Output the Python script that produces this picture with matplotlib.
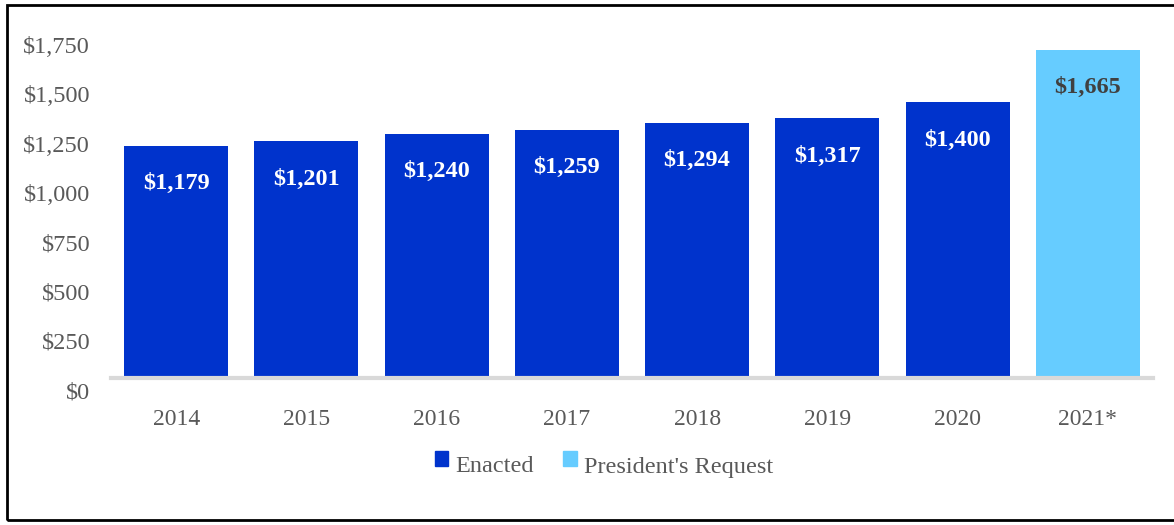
import matplotlib.pyplot as plt
import matplotlib.transforms as mtransforms
from matplotlib.patches import Rectangle, Patch

years = ['2014', '2015', '2016', '2017', '2018', '2019', '2020', '2021*']
values = [1179, 1201, 1240, 1259, 1294, 1317, 1400, 1665]
kinds = ['Enacted'] * 7 + ["President's Request"]
yticks = [0, 250, 500, 750, 1000, 1250, 1500, 1750]

colors = {'Enacted': '#0033CC', "President's Request": '#66CCFF'}
label_colors = {'Enacted': 'white', "President's Request": '#404040'}

plt.rcParams['font.family'] = ['Liberation Serif', 'DejaVu Serif']

fig = plt.figure(figsize=(11.74, 5.25), dpi=100)
ax = fig.add_axes([111 / 1174, 147 / 525, (1153 - 111) / 1174, (378 - 33) / 525])

x = list(range(len(years)))
ax.bar(x, values, width=0.8, color=[colors[k] for k in kinds], zorder=2)

# value labels inside top of bars
for xi, v, k in zip(x, values, kinds):
    off = mtransforms.ScaledTranslation(0, -38 / 100, fig.dpi_scale_trans)
    ax.text(xi, v, '${:,}'.format(v), ha='center', va='center',
            fontsize=17.5, fontweight='bold', color=label_colors[k],
            transform=ax.transData + off)

ax.set_xlim(-0.5, len(years) - 0.5)
ax.set_ylim(0, 1750)
ax.set_xticks(x)
ax.set_xticklabels(years, fontsize=17, color='#595959')
ax.set_yticks(yticks)
ax.set_yticklabels(['${:,}'.format(t) for t in yticks], fontsize=17.5, color='#595959')
ax.tick_params(axis='both', length=0)
ax.tick_params(axis='x', pad=22)
ax.tick_params(axis='y', pad=15)

# tick labels sit a bit below their value
shift = mtransforms.ScaledTranslation(0, -12 / 100, fig.dpi_scale_trans)
for lab in ax.get_yticklabels():
    lab.set_transform(lab.get_transform() + shift)

for s in ['top', 'right', 'left']:
    ax.spines[s].set_visible(False)
ax.spines['bottom'].set_color('#D9D9D9')
ax.spines['bottom'].set_linewidth(3)
ax.spines['bottom'].set_zorder(3)

handles = [Patch(color=colors['Enacted'], label='Enacted'),
           Patch(color=colors["President's Request"], label="President's Request")]
leg = fig.legend(handles=handles, loc='center', bbox_to_anchor=(604 / 1174, 1 - 467 / 525),
                 ncol=2, frameon=False, fontsize=17.5, handlelength=0.55, handleheight=0.55,
                 handletextpad=0.3, columnspacing=1.2, labelcolor='#595959')
# squares sit a little higher than the text
for h in leg.legend_handles:
    h.set_y(h.get_y() + 4)

# outer frame
fig.patches.append(Rectangle((7 / 1174, 5 / 525), 1.2, 515 / 525, transform=fig.transFigure,
                             fill=False, edgecolor='black', linewidth=2))

fig.savefig('out.png', dpi=100)
